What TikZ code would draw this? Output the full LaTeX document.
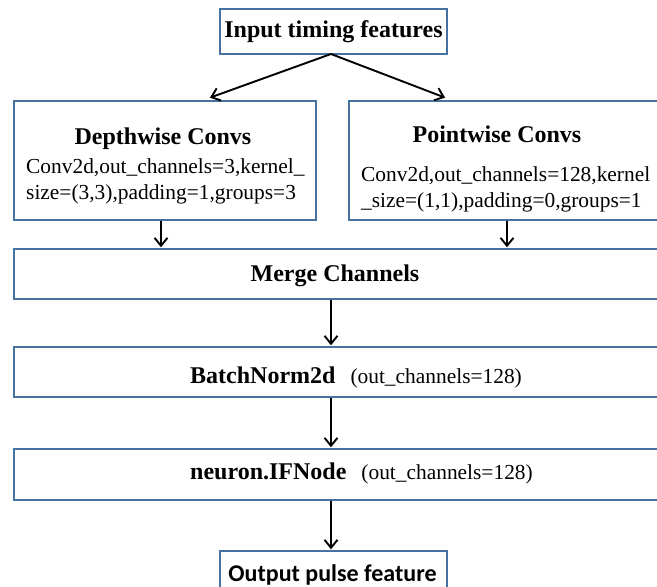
\documentclass[tikz,border=0pt]{standalone}
\usepackage{fontspec}
\setmainfont{Liberation Serif}
\newfontfamily\calib{Carlito}
\usetikzlibrary{arrows.meta}
\definecolor{boxblue}{RGB}{70,114,160}
\begin{document}
\begin{tikzpicture}[x=1pt,y=-1pt,
  box/.style={draw=boxblue,line width=1.4pt,inner sep=0pt,fill=white},
  arr/.style={draw=black,line width=1.9pt,-{Straight Barb[length=8pt,width=13pt,line width=1.9pt]},shorten >=1pt},
  ttl/.style={inner sep=0pt,anchor=base,font=\fontsize{24}{28}\selectfont\bfseries},
  txt/.style={inner sep=0pt,anchor=base west,font=\fontsize{21.4}{26}\selectfont}]
\clip (0,0) rectangle (657,587);
\fill[white] (0,0) rectangle (657,587);
% boxes
\node[box,minimum width=227pt,minimum height=45pt] (inp) at (333.5,31.5) {};
\node[box,minimum width=302pt,minimum height=119pt] (dw) at (165,160.5) {};
\node[box,minimum width=311pt,minimum height=119pt] (pw) at (504.5,160.5) {};
\node[box,minimum width=646pt,minimum height=50pt] (mc) at (337,274) {};
\node[box,minimum width=646pt,minimum height=50pt] (bn) at (337,372) {};
\node[box,minimum width=646pt,minimum height=51pt] (ifn) at (337,474.5) {};
\node[box,minimum width=227pt,minimum height=49pt] (out) at (333.5,575.5) {};
% texts
\node[ttl] (tinp) at (333.5,37) {Input timing features};
\node[ttl] (tdw) at (163,144) {Depthwise Convs};
\node[txt] (dw1) at (26,173) {Conv2d,out\_channels=3,kernel\_};
\node[txt] (dw2) at (26,199) {size=(3,3),padding=1,groups=3};
\node[ttl] (tpw) at (497,142) {Pointwise Convs};
\node[txt] (pw1) at (361,181) {Conv2d,out\_channels=128,kernel};
\node[txt] (pw2) at (361,207) {\_size=(1,1),padding=0,groups=1};
\node[ttl] (tmc) at (335,281) {Merge Channels};
\node[inner sep=0pt,anchor=base west] (tbn) at (190,383) {\fontsize{24}{28}\selectfont\bfseries BatchNorm2d\hspace{15pt}\mdseries\fontsize{21.4}{26}\selectfont(out\_channels=128)};
\node[inner sep=0pt,anchor=base west] (tif) at (190,479) {\fontsize{24}{28}\selectfont\bfseries neuron.IFNode\hspace{15pt}\mdseries\fontsize{21.4}{26}\selectfont(out\_channels=128)};
\node[inner sep=0pt,anchor=base,font=\calib\fontsize{24}{28}\selectfont\bfseries] (tout) at (332.5,581) {Output pulse feature};
% connectors
\coordinate (src) at (331,54);
\coordinate (ldw) at (209,98);
\coordinate (rpw) at (446,98);
\coordinate (cdw) at (161,0);
\coordinate (cpw) at (507,0);
\coordinate (cm) at (331,0);
\draw[arr] (src) -- (ldw);
\draw[arr] (src) -- (rpw);
\draw[arr] (dw.south -| cdw) -- (mc.north -| cdw);
\draw[arr] (pw.south -| cpw) -- (mc.north -| cpw);
\draw[arr] (mc.south -| cm) -- (bn.north -| cm);
\draw[arr] (bn.south -| cm) -- (ifn.north -| cm);
\draw[arr] (ifn.south -| cm) -- (out.north -| cm);
\end{tikzpicture}
\end{document}
